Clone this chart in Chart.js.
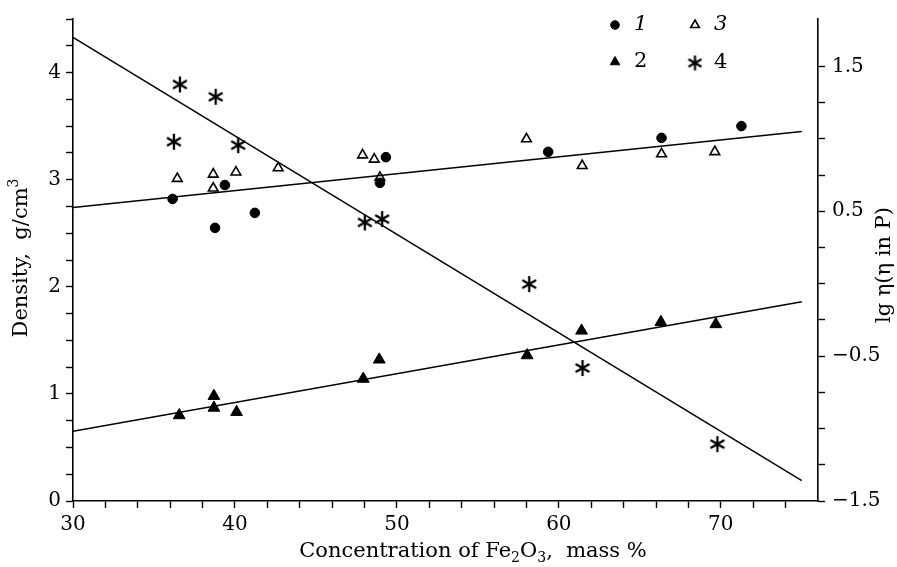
<!DOCTYPE html>
<html><head><meta charset="utf-8">
<script src="https://cdn.jsdelivr.net/npm/chart.js@4"></script>
<style>html,body{margin:0;padding:0;background:#fff;overflow:hidden}</style>
</head><body>
<canvas id="c" width="897" height="567"></canvas>
<script>
// ---- data ----
const s1x = [36.15, 38.77, 39.38, 41.23, 48.95, 49.32, 59.34, 66.34, 71.27];
const s1y = [2.82, 2.55, 2.95, 2.69, 2.97, 3.21, 3.26, 3.39, 3.50];
const s2x = [36.56, 38.70, 38.70, 40.10, 47.92, 48.91, 58.04, 61.40, 66.30, 69.69];
const s2y = [0.80, 0.98, 0.87, 0.83, 1.14, 1.32, 1.36, 1.59, 1.67, 1.65];
const s3x = [36.44, 38.66, 38.66, 40.06, 42.67, 47.88, 48.60, 48.95, 58.00, 61.44, 66.34, 69.63];
const s3y = [3.01, 3.05, 2.92, 3.07, 3.11, 3.23, 3.19, 3.02, 3.38, 3.13, 3.24, 3.26];
const s4x = [36.23, 36.60, 38.81, 40.20, 48.02, 49.09, 58.17, 61.46, 69.79];
const s4y = [0.98, 1.375, 1.29, 0.956, 0.423, 0.446, -0.003, -0.582, -1.107];
const fitX = [30, 75];
const fit13 = [2.74, 3.45];
const fit2 = [0.65, 1.86];
const fit4 = [1.70, -1.36];
const xLabels = [30, 40, 50, 60, 70];
const yLabels = [0, 1, 2, 3, 4];
const y2Labels = [1.5, 0.5, -0.5, -1.5];
const legendNames = ['1', '2', '3', '4'];

const pts = (xs, ys) => xs.map((x, i) => ({x, y: ys[i]}));
const FONT = '"DejaVu Serif", "Liberation Serif", serif';

function asterisk(size, lw) {
  const c = document.createElement('canvas');
  c.width = c.height = size;
  const g = c.getContext('2d');
  g.strokeStyle = '#000'; g.lineWidth = lw; g.lineCap = 'butt';
  const cx = size / 2, r = size / 2 - 1;
  g.beginPath();
  for (const a of [90, 30, -30]) {
    const t = a * Math.PI / 180;
    g.moveTo(cx - r * Math.cos(t), cx - r * Math.sin(t));
    g.lineTo(cx + r * Math.cos(t), cx + r * Math.sin(t));
  }
  g.stroke();
  return c;
}
const star = asterisk(18, 2.3);
const starLeg = asterisk(17, 2.2);

const near = (v, arr) => arr.some(a => Math.abs(a - v) < 1e-6);

const overlay = {
  id: 'overlay',
  afterDraw(chart) {
    const ctx = chart.ctx;
    ctx.save();
    ctx.fillStyle = '#000';
    ctx.textBaseline = 'alphabetic';
    // bottom title with subscripts
    const segs = [['Concentration of Fe', 21, 0], ['2', 14, 5], ['O', 21, 0], ['3', 14, 5], [',  mass %', 21, 0]];
    let tw = 0;
    for (const s of segs) { ctx.font = s[1] + 'px ' + FONT; tw += ctx.measureText(s[0]).width; }
    let x = 473 - tw / 2;
    for (const s of segs) {
      ctx.font = s[1] + 'px ' + FONT;
      ctx.textAlign = 'left';
      ctx.fillText(s[0], x, 557 + s[2]);
      x += ctx.measureText(s[0]).width;
    }
    // left title (rotated)
    ctx.save();
    ctx.translate(27, 258);
    ctx.rotate(-Math.PI / 2);
    const lsegs = [['Density,  g/cm', 21, 0], ['3', 14, -9]];
    tw = 0;
    for (const s of lsegs) { ctx.font = s[1] + 'px ' + FONT; tw += ctx.measureText(s[0]).width; }
    x = -tw / 2;
    for (const s of lsegs) {
      ctx.font = s[1] + 'px ' + FONT;
      ctx.fillText(s[0], x, s[2]);
      x += ctx.measureText(s[0]).width;
    }
    ctx.restore();
    // right title (rotated, bottom-to-top)
    ctx.save();
    ctx.translate(890, 265);
    ctx.rotate(-Math.PI / 2);
    ctx.font = '21px ' + FONT;
    ctx.textAlign = 'center';
    ctx.fillText('lg η(η in P)', 0, 0);
    ctx.restore();
    // legend
    const H = Chart.helpers;
    const leg = [
      {style: 'circle', r: 4.3, fill: '#000', bw: 1, x: 615, y: 25, label: legendNames[0], italic: true, tx: 634},
      {style: 'triangle', r: 5.5, fill: '#000', bw: 1, x: 615, y: 62, label: legendNames[1], italic: false, tx: 634},
      {style: 'triangle', r: 5, fill: 'rgba(0,0,0,0)', bw: 1.6, x: 695, y: 25, label: legendNames[2], italic: true, tx: 714},
      {style: starLeg, r: 8, fill: '#000', bw: 1, x: 695, y: 63, label: legendNames[3], italic: false, tx: 714},
    ];
    for (const l of leg) {
      ctx.fillStyle = l.fill; ctx.strokeStyle = '#000'; ctx.lineWidth = l.bw;
      H.drawPoint(ctx, {pointStyle: l.style, radius: l.r, rotation: 0, borderWidth: l.bw}, l.x, l.y);
      ctx.fillStyle = '#000';
      ctx.font = (l.italic ? 'italic ' : '') + '21px ' + FONT;
      ctx.textAlign = 'left';
      ctx.textBaseline = 'middle';
      ctx.fillText(l.label, l.tx, l.y);
    }
    ctx.restore();
  }
};

const gridOpts = {display: true, drawOnChartArea: false, drawTicks: true, tickLength: 7, tickColor: '#000', tickWidth: 1.4, color: '#000'};
const borderOpts = {display: true, color: '#000', width: 1.6};

new Chart(document.getElementById('c'), {
  type: 'scatter',
  data: {
    datasets: [
      {data: pts(s1x, s1y), yAxisID: 'y', pointStyle: 'circle', pointRadius: 4.8, backgroundColor: '#000', borderColor: '#000', borderWidth: 1, order: 1},
      {data: pts(s2x, s2y), yAxisID: 'y', pointStyle: 'triangle', pointRadius: 6.8, backgroundColor: '#000', borderColor: '#000', borderWidth: 1, order: 1},
      {data: pts(s3x, s3y), yAxisID: 'y', pointStyle: 'triangle', pointRadius: 5.6, backgroundColor: 'rgba(0,0,0,0)', borderColor: '#000', borderWidth: 1.6, order: 1},
      {data: pts(s4x, s4y), yAxisID: 'y2', pointStyle: star, pointRadius: 9, backgroundColor: '#000', borderColor: '#000', order: 1},
      {data: pts(fitX, fit13), yAxisID: 'y', showLine: true, pointRadius: 0, borderColor: '#000', borderWidth: 1.5, order: 2},
      {data: pts(fitX, fit2), yAxisID: 'y', showLine: true, pointRadius: 0, borderColor: '#000', borderWidth: 1.5, order: 2},
      {data: pts(fitX, fit4), yAxisID: 'y2', showLine: true, pointRadius: 0, borderColor: '#000', borderWidth: 1.5, order: 2},
    ]
  },
  options: {
    responsive: false,
    animation: false,
    events: [],
    layout: {padding: {top: 12, left: 0, right: 0, bottom: 0}},
    plugins: {legend: {display: false}, tooltip: {enabled: false}},
    scales: {
      x: {
        type: 'linear', position: 'bottom', min: 30, max: 76,
        grid: gridOpts, border: borderOpts,
        afterBuildTicks: s => { s.ticks = s.ticks.filter(t => t.value <= 74.001); },
        afterFit: s => { s.height = 66; },
        ticks: {stepSize: 2, autoSkip: false, maxRotation: 0, padding: 5, color: '#000',
          font: {family: FONT, size: 20},
          callback: v => near(v, xLabels) ? String(v) : ''}
      },
      y: {
        type: 'linear', position: 'left', min: 0, max: 4.5,
        grid: gridOpts, border: borderOpts,
        afterFit: s => { s.width = 73; },
        ticks: {stepSize: 0.25, autoSkip: false, padding: 5, color: '#000',
          font: {family: FONT, size: 20},
          callback: v => near(v, yLabels) ? String(v) : ''}
      },
      y2: {
        type: 'linear', position: 'right', min: -1.5, max: 1.827,
        grid: gridOpts, border: borderOpts,
        afterBuildTicks: s => { s.ticks = s.ticks.filter(t => t.value <= 1.76); },
        afterFit: s => { s.width = 79; },
        ticks: {stepSize: 0.25, autoSkip: false, padding: 7, color: '#000',
          font: {family: FONT, size: 20},
          callback: v => near(v, y2Labels) ? (v < 0 ? '\u2212' + Math.abs(v).toFixed(1) : v.toFixed(1)) : ''}
      }
    }
  },
  plugins: [overlay]
});
</script>
</body></html>
